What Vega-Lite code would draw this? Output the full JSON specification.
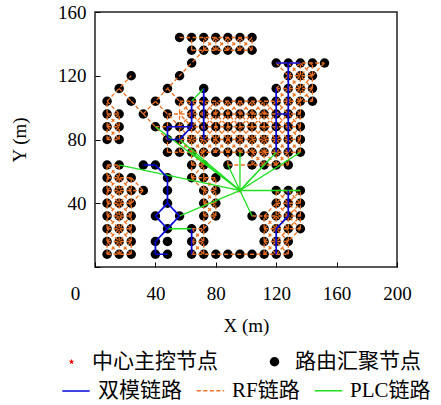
{
"$schema":"https://vega.github.io/schema/vega-lite/v6.json",
"width":302,"height":255,
"padding":{"left":10,"top":3,"right":5,"bottom":3},
"background":"white",
"config":{
 "view":{"stroke":"#222","strokeWidth":1.5},
 "axis":{"labelFont":"Liberation Serif","titleFont":"Liberation Serif","labelFontSize":19,"titleFontSize":19,"titleFontWeight":"normal","labelColor":"#000","titleColor":"#000","tickColor":"#000","domain":false,"grid":false,"tickSize":-5,"labelFlush":false},
 "legend":{"orient":"bottom","direction":"horizontal","labelFont":"Liberation Serif, Noto Sans CJK SC","labelFontSize":21,"labelColor":"#000","title":null,"offset":16,"layout":{"bottom":{"direction":"vertical","anchor":"middle","margin":4}}}
},
"datasets":{
"nodes":[
{"x":96,"y":48,"k":"中心主控节点"},
{"x":56,"y":144,"k":"路由汇聚节点"},{"x":64,"y":144,"k":"路由汇聚节点"},{"x":72,"y":144,"k":"路由汇聚节点"},{"x":80,"y":144,"k":"路由汇聚节点"},{"x":88,"y":144,"k":"路由汇聚节点"},{"x":96,"y":144,"k":"路由汇聚节点"},{"x":104,"y":144,"k":"路由汇聚节点"},
{"x":64,"y":136,"k":"路由汇聚节点"},{"x":72,"y":136,"k":"路由汇聚节点"},{"x":80,"y":136,"k":"路由汇聚节点"},{"x":88,"y":136,"k":"路由汇聚节点"},{"x":96,"y":136,"k":"路由汇聚节点"},{"x":104,"y":136,"k":"路由汇聚节点"},
{"x":64,"y":128,"k":"路由汇聚节点"},{"x":120,"y":128,"k":"路由汇聚节点"},{"x":128,"y":128,"k":"路由汇聚节点"},{"x":136,"y":128,"k":"路由汇聚节点"},{"x":144,"y":128,"k":"路由汇聚节点"},{"x":152,"y":128,"k":"路由汇聚节点"},
{"x":24,"y":120,"k":"路由汇聚节点"},{"x":56,"y":120,"k":"路由汇聚节点"},{"x":128,"y":120,"k":"路由汇聚节点"},{"x":136,"y":120,"k":"路由汇聚节点"},{"x":144,"y":120,"k":"路由汇聚节点"},
{"x":16,"y":112,"k":"路由汇聚节点"},{"x":48,"y":112,"k":"路由汇聚节点"},{"x":72,"y":112,"k":"路由汇聚节点"},{"x":120,"y":112,"k":"路由汇聚节点"},{"x":128,"y":112,"k":"路由汇聚节点"},{"x":136,"y":112,"k":"路由汇聚节点"},{"x":144,"y":112,"k":"路由汇聚节点"},
{"x":8,"y":104,"k":"路由汇聚节点"},{"x":24,"y":104,"k":"路由汇聚节点"},{"x":40,"y":104,"k":"路由汇聚节点"},{"x":56,"y":104,"k":"路由汇聚节点"},{"x":64,"y":104,"k":"路由汇聚节点"},{"x":72,"y":104,"k":"路由汇聚节点"},{"x":80,"y":104,"k":"路由汇聚节点"},{"x":88,"y":104,"k":"路由汇聚节点"},{"x":96,"y":104,"k":"路由汇聚节点"},{"x":104,"y":104,"k":"路由汇聚节点"},{"x":112,"y":104,"k":"路由汇聚节点"},{"x":120,"y":104,"k":"路由汇聚节点"},{"x":128,"y":104,"k":"路由汇聚节点"},{"x":136,"y":104,"k":"路由汇聚节点"},{"x":144,"y":104,"k":"路由汇聚节点"},
{"x":8,"y":96,"k":"路由汇聚节点"},{"x":16,"y":96,"k":"路由汇聚节点"},{"x":32,"y":96,"k":"路由汇聚节点"},{"x":48,"y":96,"k":"路由汇聚节点"},{"x":64,"y":96,"k":"路由汇聚节点"},{"x":72,"y":96,"k":"路由汇聚节点"},{"x":80,"y":96,"k":"路由汇聚节点"},{"x":88,"y":96,"k":"路由汇聚节点"},{"x":96,"y":96,"k":"路由汇聚节点"},{"x":104,"y":96,"k":"路由汇聚节点"},{"x":112,"y":96,"k":"路由汇聚节点"},{"x":120,"y":96,"k":"路由汇聚节点"},{"x":128,"y":96,"k":"路由汇聚节点"},{"x":136,"y":96,"k":"路由汇聚节点"},
{"x":8,"y":88,"k":"路由汇聚节点"},{"x":16,"y":88,"k":"路由汇聚节点"},{"x":40,"y":88,"k":"路由汇聚节点"},{"x":48,"y":88,"k":"路由汇聚节点"},{"x":56,"y":88,"k":"路由汇聚节点"},{"x":64,"y":88,"k":"路由汇聚节点"},{"x":72,"y":88,"k":"路由汇聚节点"},{"x":80,"y":88,"k":"路由汇聚节点"},{"x":88,"y":88,"k":"路由汇聚节点"},{"x":96,"y":88,"k":"路由汇聚节点"},{"x":104,"y":88,"k":"路由汇聚节点"},{"x":112,"y":88,"k":"路由汇聚节点"},{"x":120,"y":88,"k":"路由汇聚节点"},{"x":128,"y":88,"k":"路由汇聚节点"},{"x":136,"y":88,"k":"路由汇聚节点"},
{"x":8,"y":80,"k":"路由汇聚节点"},{"x":16,"y":80,"k":"路由汇聚节点"},{"x":48,"y":80,"k":"路由汇聚节点"},{"x":56,"y":80,"k":"路由汇聚节点"},{"x":64,"y":80,"k":"路由汇聚节点"},{"x":72,"y":80,"k":"路由汇聚节点"},{"x":80,"y":80,"k":"路由汇聚节点"},{"x":88,"y":80,"k":"路由汇聚节点"},{"x":96,"y":80,"k":"路由汇聚节点"},{"x":104,"y":80,"k":"路由汇聚节点"},{"x":112,"y":80,"k":"路由汇聚节点"},{"x":120,"y":80,"k":"路由汇聚节点"},{"x":128,"y":80,"k":"路由汇聚节点"},{"x":136,"y":80,"k":"路由汇聚节点"},
{"x":48,"y":72,"k":"路由汇聚节点"},{"x":56,"y":72,"k":"路由汇聚节点"},{"x":64,"y":72,"k":"路由汇聚节点"},{"x":72,"y":72,"k":"路由汇聚节点"},{"x":80,"y":72,"k":"路由汇聚节点"},{"x":88,"y":72,"k":"路由汇聚节点"},{"x":96,"y":72,"k":"路由汇聚节点"},{"x":104,"y":72,"k":"路由汇聚节点"},{"x":112,"y":72,"k":"路由汇聚节点"},{"x":120,"y":72,"k":"路由汇聚节点"},{"x":128,"y":72,"k":"路由汇聚节点"},{"x":136,"y":72,"k":"路由汇聚节点"},
{"x":8,"y":64,"k":"路由汇聚节点"},{"x":16,"y":64,"k":"路由汇聚节点"},{"x":32,"y":64,"k":"路由汇聚节点"},{"x":40,"y":64,"k":"路由汇聚节点"},{"x":64,"y":64,"k":"路由汇聚节点"},{"x":72,"y":64,"k":"路由汇聚节点"},{"x":88,"y":64,"k":"路由汇聚节点"},{"x":104,"y":64,"k":"路由汇聚节点"},{"x":112,"y":64,"k":"路由汇聚节点"},{"x":120,"y":64,"k":"路由汇聚节点"},{"x":128,"y":64,"k":"路由汇聚节点"},
{"x":8,"y":56,"k":"路由汇聚节点"},{"x":16,"y":56,"k":"路由汇聚节点"},{"x":24,"y":56,"k":"路由汇聚节点"},{"x":48,"y":56,"k":"路由汇聚节点"},{"x":64,"y":56,"k":"路由汇聚节点"},{"x":72,"y":56,"k":"路由汇聚节点"},{"x":80,"y":56,"k":"路由汇聚节点"},
{"x":8,"y":48,"k":"路由汇聚节点"},{"x":16,"y":48,"k":"路由汇聚节点"},{"x":24,"y":48,"k":"路由汇聚节点"},{"x":32,"y":48,"k":"路由汇聚节点"},{"x":48,"y":48,"k":"路由汇聚节点"},{"x":72,"y":48,"k":"路由汇聚节点"},{"x":80,"y":48,"k":"路由汇聚节点"},{"x":120,"y":48,"k":"路由汇聚节点"},{"x":128,"y":48,"k":"路由汇聚节点"},{"x":136,"y":48,"k":"路由汇聚节点"},
{"x":8,"y":40,"k":"路由汇聚节点"},{"x":16,"y":40,"k":"路由汇聚节点"},{"x":24,"y":40,"k":"路由汇聚节点"},{"x":48,"y":40,"k":"路由汇聚节点"},{"x":72,"y":40,"k":"路由汇聚节点"},{"x":80,"y":40,"k":"路由汇聚节点"},{"x":120,"y":40,"k":"路由汇聚节点"},{"x":128,"y":40,"k":"路由汇聚节点"},{"x":136,"y":40,"k":"路由汇聚节点"},
{"x":8,"y":32,"k":"路由汇聚节点"},{"x":16,"y":32,"k":"路由汇聚节点"},{"x":24,"y":32,"k":"路由汇聚节点"},{"x":40,"y":32,"k":"路由汇聚节点"},{"x":56,"y":32,"k":"路由汇聚节点"},{"x":72,"y":32,"k":"路由汇聚节点"},{"x":80,"y":32,"k":"路由汇聚节点"},{"x":104,"y":32,"k":"路由汇聚节点"},{"x":112,"y":32,"k":"路由汇聚节点"},{"x":120,"y":32,"k":"路由汇聚节点"},{"x":128,"y":32,"k":"路由汇聚节点"},{"x":136,"y":32,"k":"路由汇聚节点"},
{"x":8,"y":24,"k":"路由汇聚节点"},{"x":16,"y":24,"k":"路由汇聚节点"},{"x":24,"y":24,"k":"路由汇聚节点"},{"x":48,"y":24,"k":"路由汇聚节点"},{"x":64,"y":24,"k":"路由汇聚节点"},{"x":72,"y":24,"k":"路由汇聚节点"},{"x":112,"y":24,"k":"路由汇聚节点"},{"x":120,"y":24,"k":"路由汇聚节点"},{"x":128,"y":24,"k":"路由汇聚节点"},{"x":136,"y":24,"k":"路由汇聚节点"},
{"x":8,"y":16,"k":"路由汇聚节点"},{"x":16,"y":16,"k":"路由汇聚节点"},{"x":24,"y":16,"k":"路由汇聚节点"},{"x":40,"y":16,"k":"路由汇聚节点"},{"x":48,"y":16,"k":"路由汇聚节点"},{"x":64,"y":16,"k":"路由汇聚节点"},{"x":72,"y":16,"k":"路由汇聚节点"},{"x":112,"y":16,"k":"路由汇聚节点"},{"x":120,"y":16,"k":"路由汇聚节点"},{"x":128,"y":16,"k":"路由汇聚节点"},
{"x":8,"y":8,"k":"路由汇聚节点"},{"x":16,"y":8,"k":"路由汇聚节点"},{"x":24,"y":8,"k":"路由汇聚节点"},{"x":40,"y":8,"k":"路由汇聚节点"},{"x":48,"y":8,"k":"路由汇聚节点"},{"x":64,"y":8,"k":"路由汇聚节点"},{"x":72,"y":8,"k":"路由汇聚节点"},{"x":80,"y":8,"k":"路由汇聚节点"},{"x":88,"y":8,"k":"路由汇聚节点"},{"x":96,"y":8,"k":"路由汇聚节点"},{"x":104,"y":8,"k":"路由汇聚节点"},{"x":112,"y":8,"k":"路由汇聚节点"},{"x":120,"y":8,"k":"路由汇聚节点"},{"x":128,"y":8,"k":"路由汇聚节点"}
],
"links":[
{"x":56,"y":144,"x2":104,"y2":144,"t":"RF链路"},{"x":64,"y":136,"x2":104,"y2":136,"t":"RF链路"},
{"x":64,"y":136,"x2":64,"y2":144,"t":"RF链路"},{"x":72,"y":136,"x2":72,"y2":144,"t":"RF链路"},{"x":80,"y":136,"x2":80,"y2":144,"t":"RF链路"},{"x":88,"y":136,"x2":88,"y2":144,"t":"RF链路"},{"x":96,"y":136,"x2":96,"y2":144,"t":"RF链路"},{"x":104,"y":136,"x2":104,"y2":144,"t":"RF链路"},
{"x":72,"y":136,"x2":80,"y2":144,"t":"RF链路"},{"x":80,"y":136,"x2":88,"y2":144,"t":"RF链路"},{"x":88,"y":136,"x2":96,"y2":144,"t":"RF链路"},{"x":96,"y":136,"x2":104,"y2":144,"t":"RF链路"},
{"x":72,"y":144,"x2":80,"y2":136,"t":"RF链路"},{"x":80,"y":144,"x2":88,"y2":136,"t":"RF链路"},{"x":88,"y":144,"x2":96,"y2":136,"t":"RF链路"},{"x":96,"y":144,"x2":104,"y2":136,"t":"RF链路"},
{"x":8,"y":104,"x2":24,"y2":120,"t":"RF链路"},{"x":16,"y":112,"x2":24,"y2":104,"t":"RF链路"},{"x":24,"y":104,"x2":32,"y2":96,"t":"RF链路"},{"x":32,"y":96,"x2":72,"y2":136,"t":"RF链路"},
{"x":40,"y":104,"x2":56,"y2":88,"t":"RF链路"},{"x":48,"y":112,"x2":56,"y2":104,"t":"RF链路"},{"x":32,"y":96,"x2":48,"y2":80,"t":"RF链路"},
{"x":8,"y":80,"x2":8,"y2":104,"t":"RF链路"},{"x":16,"y":80,"x2":16,"y2":96,"t":"RF链路"},{"x":8,"y":96,"x2":16,"y2":96,"t":"RF链路"},{"x":8,"y":88,"x2":16,"y2":88,"t":"RF链路"},{"x":8,"y":80,"x2":16,"y2":80,"t":"RF链路"},
{"x":8,"y":80,"x2":16,"y2":88,"t":"RF链路"},{"x":8,"y":88,"x2":16,"y2":80,"t":"RF链路"},{"x":8,"y":88,"x2":16,"y2":96,"t":"RF链路"},{"x":8,"y":96,"x2":16,"y2":88,"t":"RF链路"},{"x":8,"y":104,"x2":16,"y2":96,"t":"RF链路"},
{"x":56,"y":104,"x2":144,"y2":104,"t":"RF链路"},{"x":48,"y":96,"x2":136,"y2":96,"t":"RF链路"},{"x":40,"y":88,"x2":136,"y2":88,"t":"RF链路"},{"x":48,"y":80,"x2":136,"y2":80,"t":"RF链路"},{"x":48,"y":72,"x2":136,"y2":72,"t":"RF链路"},
{"x":48,"y":72,"x2":48,"y2":96,"t":"RF链路"},{"x":56,"y":72,"x2":56,"y2":104,"t":"RF链路"},{"x":64,"y":72,"x2":64,"y2":104,"t":"RF链路"},{"x":72,"y":72,"x2":72,"y2":104,"t":"RF链路"},{"x":80,"y":72,"x2":80,"y2":104,"t":"RF链路"},{"x":88,"y":72,"x2":88,"y2":104,"t":"RF链路"},{"x":96,"y":72,"x2":96,"y2":104,"t":"RF链路"},{"x":104,"y":72,"x2":104,"y2":104,"t":"RF链路"},{"x":112,"y":72,"x2":112,"y2":104,"t":"RF链路"},{"x":120,"y":72,"x2":120,"y2":104,"t":"RF链路"},{"x":128,"y":72,"x2":128,"y2":104,"t":"RF链路"},{"x":136,"y":72,"x2":136,"y2":104,"t":"RF链路"},
{"x":56,"y":96,"x2":64,"y2":104,"t":"RF链路"},{"x":56,"y":88,"x2":72,"y2":104,"t":"RF链路"},{"x":56,"y":80,"x2":80,"y2":104,"t":"RF链路"},{"x":56,"y":72,"x2":88,"y2":104,"t":"RF链路"},{"x":64,"y":72,"x2":96,"y2":104,"t":"RF链路"},{"x":72,"y":72,"x2":104,"y2":104,"t":"RF链路"},{"x":80,"y":72,"x2":112,"y2":104,"t":"RF链路"},{"x":88,"y":72,"x2":120,"y2":104,"t":"RF链路"},{"x":96,"y":72,"x2":128,"y2":104,"t":"RF链路"},{"x":104,"y":72,"x2":136,"y2":104,"t":"RF链路"},{"x":112,"y":72,"x2":136,"y2":96,"t":"RF链路"},{"x":120,"y":72,"x2":136,"y2":88,"t":"RF链路"},{"x":128,"y":72,"x2":136,"y2":80,"t":"RF链路"},
{"x":64,"y":72,"x2":56,"y2":80,"t":"RF链路"},{"x":72,"y":72,"x2":56,"y2":88,"t":"RF链路"},{"x":80,"y":72,"x2":56,"y2":96,"t":"RF链路"},{"x":88,"y":72,"x2":56,"y2":104,"t":"RF链路"},{"x":96,"y":72,"x2":64,"y2":104,"t":"RF链路"},{"x":104,"y":72,"x2":72,"y2":104,"t":"RF链路"},{"x":112,"y":72,"x2":80,"y2":104,"t":"RF链路"},{"x":120,"y":72,"x2":88,"y2":104,"t":"RF链路"},{"x":128,"y":72,"x2":96,"y2":104,"t":"RF链路"},{"x":136,"y":72,"x2":104,"y2":104,"t":"RF链路"},{"x":136,"y":80,"x2":112,"y2":104,"t":"RF链路"},{"x":136,"y":88,"x2":120,"y2":104,"t":"RF链路"},{"x":136,"y":96,"x2":128,"y2":104,"t":"RF链路"},
{"x":64,"y":64,"x2":72,"y2":64,"t":"RF链路"},{"x":88,"y":64,"x2":128,"y2":64,"t":"RF链路"},{"x":64,"y":64,"x2":64,"y2":72,"t":"RF链路"},{"x":72,"y":64,"x2":72,"y2":72,"t":"RF链路"},{"x":88,"y":64,"x2":88,"y2":72,"t":"RF链路"},{"x":104,"y":64,"x2":104,"y2":72,"t":"RF链路"},{"x":112,"y":64,"x2":112,"y2":72,"t":"RF链路"},{"x":120,"y":64,"x2":120,"y2":72,"t":"RF链路"},{"x":128,"y":64,"x2":128,"y2":72,"t":"RF链路"},
{"x":64,"y":64,"x2":72,"y2":72,"t":"RF链路"},{"x":64,"y":72,"x2":72,"y2":64,"t":"RF链路"},{"x":104,"y":64,"x2":112,"y2":72,"t":"RF链路"},{"x":104,"y":72,"x2":112,"y2":64,"t":"RF链路"},{"x":112,"y":64,"x2":120,"y2":72,"t":"RF链路"},{"x":112,"y":72,"x2":120,"y2":64,"t":"RF链路"},{"x":120,"y":64,"x2":128,"y2":72,"t":"RF链路"},{"x":120,"y":72,"x2":128,"y2":64,"t":"RF链路"},
{"x":120,"y":128,"x2":152,"y2":128,"t":"RF链路"},{"x":128,"y":120,"x2":144,"y2":120,"t":"RF链路"},{"x":120,"y":112,"x2":144,"y2":112,"t":"RF链路"},
{"x":120,"y":104,"x2":120,"y2":112,"t":"RF链路"},{"x":128,"y":104,"x2":128,"y2":128,"t":"RF链路"},{"x":136,"y":104,"x2":136,"y2":128,"t":"RF链路"},{"x":144,"y":104,"x2":144,"y2":128,"t":"RF链路"},
{"x":120,"y":104,"x2":128,"y2":112,"t":"RF链路"},{"x":120,"y":112,"x2":128,"y2":104,"t":"RF链路"},{"x":128,"y":104,"x2":144,"y2":120,"t":"RF链路"},{"x":136,"y":104,"x2":144,"y2":112,"t":"RF链路"},{"x":128,"y":112,"x2":144,"y2":128,"t":"RF链路"},{"x":128,"y":120,"x2":136,"y2":128,"t":"RF链路"},{"x":128,"y":112,"x2":136,"y2":104,"t":"RF链路"},{"x":128,"y":120,"x2":144,"y2":104,"t":"RF链路"},{"x":128,"y":128,"x2":144,"y2":112,"t":"RF链路"},{"x":136,"y":128,"x2":144,"y2":120,"t":"RF链路"},{"x":120,"y":128,"x2":128,"y2":120,"t":"RF链路"},{"x":120,"y":112,"x2":128,"y2":120,"t":"RF链路"},{"x":144,"y":120,"x2":152,"y2":128,"t":"RF链路"},
{"x":8,"y":8,"x2":8,"y2":64,"t":"RF链路"},{"x":16,"y":8,"x2":16,"y2":64,"t":"RF链路"},{"x":24,"y":8,"x2":24,"y2":56,"t":"RF链路"},
{"x":8,"y":8,"x2":24,"y2":8,"t":"RF链路"},{"x":8,"y":16,"x2":24,"y2":16,"t":"RF链路"},{"x":8,"y":24,"x2":24,"y2":24,"t":"RF链路"},{"x":8,"y":32,"x2":24,"y2":32,"t":"RF链路"},{"x":8,"y":40,"x2":24,"y2":40,"t":"RF链路"},{"x":8,"y":48,"x2":32,"y2":48,"t":"RF链路"},{"x":8,"y":56,"x2":24,"y2":56,"t":"RF链路"},{"x":8,"y":64,"x2":16,"y2":64,"t":"RF链路"},
{"x":16,"y":8,"x2":24,"y2":16,"t":"RF链路"},{"x":8,"y":8,"x2":24,"y2":24,"t":"RF链路"},{"x":8,"y":16,"x2":24,"y2":32,"t":"RF链路"},{"x":8,"y":24,"x2":24,"y2":40,"t":"RF链路"},{"x":8,"y":32,"x2":24,"y2":48,"t":"RF链路"},{"x":8,"y":40,"x2":24,"y2":56,"t":"RF链路"},{"x":8,"y":48,"x2":16,"y2":56,"t":"RF链路"},{"x":8,"y":56,"x2":16,"y2":64,"t":"RF链路"},
{"x":16,"y":8,"x2":8,"y2":16,"t":"RF链路"},{"x":24,"y":8,"x2":8,"y2":24,"t":"RF链路"},{"x":24,"y":16,"x2":8,"y2":32,"t":"RF链路"},{"x":24,"y":24,"x2":8,"y2":40,"t":"RF链路"},{"x":24,"y":32,"x2":8,"y2":48,"t":"RF链路"},{"x":24,"y":40,"x2":8,"y2":56,"t":"RF链路"},{"x":24,"y":48,"x2":16,"y2":56,"t":"RF链路"},{"x":16,"y":56,"x2":8,"y2":64,"t":"RF链路"},
{"x":24,"y":56,"x2":32,"y2":48,"t":"RF链路"},{"x":24,"y":40,"x2":32,"y2":48,"t":"RF链路"},
{"x":72,"y":8,"x2":72,"y2":56,"t":"RF链路"},{"x":80,"y":32,"x2":80,"y2":56,"t":"RF链路"},
{"x":64,"y":56,"x2":80,"y2":56,"t":"RF链路"},{"x":72,"y":48,"x2":80,"y2":48,"t":"RF链路"},{"x":72,"y":40,"x2":80,"y2":40,"t":"RF链路"},{"x":72,"y":32,"x2":80,"y2":32,"t":"RF链路"},{"x":64,"y":24,"x2":72,"y2":24,"t":"RF链路"},{"x":64,"y":16,"x2":72,"y2":16,"t":"RF链路"},{"x":64,"y":8,"x2":128,"y2":8,"t":"RF链路"},
{"x":72,"y":32,"x2":80,"y2":40,"t":"RF链路"},{"x":72,"y":40,"x2":80,"y2":48,"t":"RF链路"},{"x":72,"y":48,"x2":80,"y2":56,"t":"RF链路"},{"x":72,"y":40,"x2":80,"y2":32,"t":"RF链路"},{"x":72,"y":48,"x2":80,"y2":40,"t":"RF链路"},{"x":72,"y":56,"x2":80,"y2":48,"t":"RF链路"},{"x":64,"y":56,"x2":72,"y2":48,"t":"RF链路"},
{"x":64,"y":8,"x2":72,"y2":16,"t":"RF链路"},{"x":64,"y":16,"x2":72,"y2":24,"t":"RF链路"},{"x":64,"y":16,"x2":72,"y2":8,"t":"RF链路"},{"x":64,"y":24,"x2":72,"y2":16,"t":"RF链路"},{"x":72,"y":24,"x2":80,"y2":32,"t":"RF链路"},
{"x":64,"y":56,"x2":64,"y2":64,"t":"RF链路"},{"x":72,"y":56,"x2":72,"y2":64,"t":"RF链路"},{"x":64,"y":56,"x2":72,"y2":64,"t":"RF链路"},
{"x":120,"y":48,"x2":136,"y2":48,"t":"RF链路"},{"x":120,"y":40,"x2":136,"y2":40,"t":"RF链路"},{"x":104,"y":32,"x2":136,"y2":32,"t":"RF链路"},{"x":112,"y":24,"x2":136,"y2":24,"t":"RF链路"},{"x":112,"y":16,"x2":128,"y2":16,"t":"RF链路"},
{"x":112,"y":8,"x2":112,"y2":32,"t":"RF链路"},{"x":120,"y":8,"x2":120,"y2":48,"t":"RF链路"},{"x":128,"y":8,"x2":128,"y2":48,"t":"RF链路"},{"x":136,"y":24,"x2":136,"y2":48,"t":"RF链路"},
{"x":112,"y":32,"x2":128,"y2":48,"t":"RF链路"},{"x":112,"y":24,"x2":136,"y2":48,"t":"RF链路"},{"x":112,"y":16,"x2":136,"y2":40,"t":"RF链路"},{"x":112,"y":8,"x2":136,"y2":32,"t":"RF链路"},{"x":120,"y":8,"x2":136,"y2":24,"t":"RF链路"},
{"x":120,"y":48,"x2":136,"y2":32,"t":"RF链路"},{"x":128,"y":48,"x2":136,"y2":40,"t":"RF链路"},{"x":120,"y":40,"x2":136,"y2":24,"t":"RF链路"},{"x":112,"y":32,"x2":128,"y2":16,"t":"RF链路"},{"x":112,"y":24,"x2":128,"y2":8,"t":"RF链路"},{"x":112,"y":16,"x2":120,"y2":8,"t":"RF链路"},{"x":120,"y":32,"x2":128,"y2":24,"t":"RF链路"},
{"x":96,"y":48,"x2":16,"y2":64,"t":"PLC链路"},{"x":96,"y":48,"x2":40,"y2":88,"t":"PLC链路"},{"x":96,"y":48,"x2":56,"y2":80,"t":"PLC链路"},{"x":96,"y":48,"x2":64,"y2":72,"t":"PLC链路"},{"x":96,"y":48,"x2":88,"y2":64,"t":"PLC链路"},{"x":96,"y":48,"x2":96,"y2":72,"t":"PLC链路"},{"x":96,"y":48,"x2":112,"y2":64,"t":"PLC链路"},{"x":96,"y":48,"x2":120,"y2":72,"t":"PLC链路"},{"x":96,"y":48,"x2":136,"y2":72,"t":"PLC链路"},{"x":96,"y":48,"x2":136,"y2":48,"t":"PLC链路"},{"x":96,"y":48,"x2":104,"y2":32,"t":"PLC链路"},{"x":96,"y":48,"x2":56,"y2":32,"t":"PLC链路"},{"x":64,"y":104,"x2":72,"y2":112,"t":"PLC链路"},{"x":48,"y":24,"x2":64,"y2":24,"t":"PLC链路"},
{"x":72,"y":112,"x2":72,"y2":80,"t":"双模链路"},{"x":64,"y":104,"x2":64,"y2":88,"t":"双模链路"},{"x":64,"y":88,"x2":48,"y2":88,"t":"双模链路"},{"x":48,"y":88,"x2":48,"y2":80,"t":"双模链路"},{"x":48,"y":80,"x2":56,"y2":80,"t":"双模链路"},{"x":56,"y":80,"x2":64,"y2":88,"t":"双模链路"},
{"x":120,"y":128,"x2":136,"y2":128,"t":"双模链路"},{"x":128,"y":128,"x2":128,"y2":72,"t":"双模链路"},{"x":120,"y":112,"x2":120,"y2":72,"t":"双模链路"},{"x":120,"y":96,"x2":128,"y2":96,"t":"双模链路"},
{"x":128,"y":48,"x2":128,"y2":32,"t":"双模链路"},{"x":128,"y":32,"x2":120,"y2":24,"t":"双模链路"},{"x":120,"y":24,"x2":120,"y2":8,"t":"双模链路"},
{"x":32,"y":64,"x2":40,"y2":64,"t":"双模链路"},{"x":40,"y":64,"x2":48,"y2":56,"t":"双模链路"},{"x":48,"y":56,"x2":48,"y2":40,"t":"双模链路"},{"x":48,"y":40,"x2":40,"y2":32,"t":"双模链路"},{"x":40,"y":32,"x2":48,"y2":24,"t":"双模链路"},{"x":48,"y":24,"x2":56,"y2":32,"t":"双模链路"},{"x":56,"y":32,"x2":48,"y2":40,"t":"双模链路"},{"x":48,"y":24,"x2":40,"y2":16,"t":"双模链路"},{"x":40,"y":16,"x2":40,"y2":8,"t":"双模链路"},{"x":40,"y":8,"x2":48,"y2":8,"t":"双模链路"},{"x":64,"y":24,"x2":64,"y2":8,"t":"双模链路"}
]
},
"layer":[
 {"data":{"name":"nodes"},
  "mark":{"type":"point","filled":true,"opacity":1,"strokeWidth":0},
  "encoding":{
   "x":{"field":"x","type":"quantitative","scale":{"domain":[0,200],"nice":false,"zero":false},
        "axis":{"values":[0,40,80,120,160,200],"title":"X (m)","labelPadding":22,"titlePadding":13,
                "labelOffset":{"condition":{"test":"datum.value === 0","value":-20},"value":0}}},
   "y":{"field":"y","type":"quantitative","scale":{"domain":[0,160],"nice":false,"zero":false},
        "axis":{"values":[0,20,40,60,80,100,120,140,160],"title":"Y (m)","labelPadding":14,"titlePadding":28,
                "labelExpr":"datum.value === 0 ? '' : datum.label"}},
   "shape":{"field":"k","type":"nominal","scale":{"domain":["中心主控节点","路由汇聚节点"],"range":["M0,-1L0.223,-0.307L0.951,-0.309L0.361,0.117L0.588,0.809L0,0.38L-0.588,0.809L-0.361,0.117L-0.951,-0.309L-0.223,-0.307Z","circle"]},
            "legend":{"title":null,"columnPadding":46,"labelOffset":10}},
   "fill":{"field":"k","type":"nominal","scale":{"domain":["中心主控节点","路由汇聚节点"],"range":["#ff0000","#000000"]},"legend":{"title":null}},
   "size":{"field":"k","type":"nominal","scale":{"type":"ordinal","domain":["中心主控节点","路由汇聚节点"],"range":[36,90]},"legend":{"title":null}}
  }},
 {"data":{"name":"links"},
  "mark":{"type":"rule"},
  "encoding":{
   "x":{"field":"x","type":"quantitative"},
   "y":{"field":"y","type":"quantitative"},
   "x2":{"field":"x2"},
   "y2":{"field":"y2"},
   "stroke":{"field":"t","type":"nominal","scale":{"domain":["双模链路","RF链路","PLC链路"],"range":["#0505d8","#ee7020","#1ee01e"]},
             "legend":{"title":null,"symbolType":"stroke","symbolSize":750,"symbolStrokeWidth":1.5,"columnPadding":12,"labelOffset":7}},
   "strokeDash":{"field":"t","type":"nominal","scale":{"domain":["双模链路","RF链路","PLC链路"],"range":[[1,0],[4,2.5],[1,0]]},"legend":{"title":null}},
   "strokeWidth":{"field":"t","type":"nominal","scale":{"type":"ordinal","domain":["双模链路","RF链路","PLC链路"],"range":[1.7,1.3,1.3]},"legend":null}
  }}
]
}
